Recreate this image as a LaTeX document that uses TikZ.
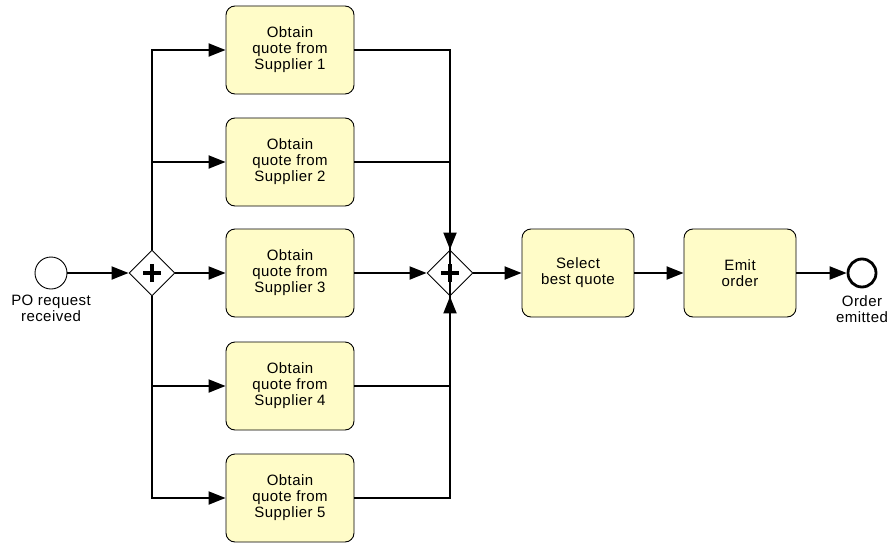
\documentclass[tikz,border=0pt]{standalone}
\usepackage{fontspec}
\setmainfont[LetterSpace=3]{Liberation Sans}
\usetikzlibrary{shapes.geometric,arrows.meta}
\definecolor{taskfill}{HTML}{FFFCC8}
\tikzset{
  task/.style={draw=black, line width=0.9pt, fill=taskfill, rounded corners=9pt,
    minimum width=128pt, minimum height=88pt, inner sep=0pt, align=center,
    font=\fontsize{15}{16}\selectfont},
  gw/.style={draw=black, line width=0.9pt, fill=white, diamond, minimum width=46pt, minimum height=46pt, inner sep=0pt},
  startev/.style={circle, draw=black, line width=0.9pt, fill=white, minimum size=32pt, inner sep=0pt},
  endev/.style={circle, draw=black, line width=2.8pt, fill=white, minimum size=28pt, inner sep=0pt},
  lbl/.style={align=center, font=\fontsize{15}{16}\selectfont, inner sep=0pt},
  flow/.style={line width=2pt, -{Triangle[length=17pt,width=13pt]}},
  plainflow/.style={line width=2pt},
  plus/.style={line width=3.5pt},
}
\begin{document}
\begin{tikzpicture}[x=1pt,y=-1pt]
\useasboundingbox (0,0) rectangle (896,543);
\node[startev] (start) at (51,273) {};
\node[lbl, anchor=north] (startlbl) at (51,295) {PO request\\received};
\node[gw] (g1) at (152,273) {};
\draw[plus] ([xshift=-9pt]g1.center) -- ([xshift=9pt]g1.center) ([yshift=-9pt]g1.center) -- ([yshift=9pt]g1.center);
\node[task] (t1) at (290,50) {Obtain\\quote from\\Supplier 1};
\node[task] (t2) at (290,162) {Obtain\\quote from\\Supplier 2};
\node[task] (t3) at (290,273) {Obtain\\quote from\\Supplier 3};
\node[task] (t4) at (290,386) {Obtain\\quote from\\Supplier 4};
\node[task] (t5) at (290,498) {Obtain\\quote from\\Supplier 5};
\node[gw] (g2) at (450,273) {};
\draw[plus] ([xshift=-9pt]g2.center) -- ([xshift=9pt]g2.center) ([yshift=-9pt]g2.center) -- ([yshift=9pt]g2.center);
\node[task, minimum width=112pt] (sel) at (578,273) {Select\\best quote};
\node[task, minimum width=112pt] (emit) at (740,273) {Emit\\order};
\node[endev] (end) at (862,273) {};
\node[lbl, anchor=north] (endlbl) at (862,295) {Order\\emitted};

\draw[flow] (start) -- (g1);
\draw[flow] (g1.north) |- (t1.west);
\draw[flow] (g1.north) |- (t2.west);
\draw[flow] (g1) -- (t3);
\draw[flow] (g1.south) |- (t4.west);
\draw[flow] (g1.south) |- (t5.west);
\draw[flow] (t1.east) -| (g2.north);
\draw[plainflow] (t2.east) -| ([yshift=-60pt]g2.north);
\draw[flow] (t3) -- (g2);
\draw[plainflow] (t4.east) -| ([yshift=60pt]g2.south);
\draw[flow] (t5.east) -| (g2.south);
\draw[flow] (g2) -- (sel);
\draw[flow] (sel) -- (emit);
\draw[flow] (emit) -- (end);
\end{tikzpicture}
\end{document}
